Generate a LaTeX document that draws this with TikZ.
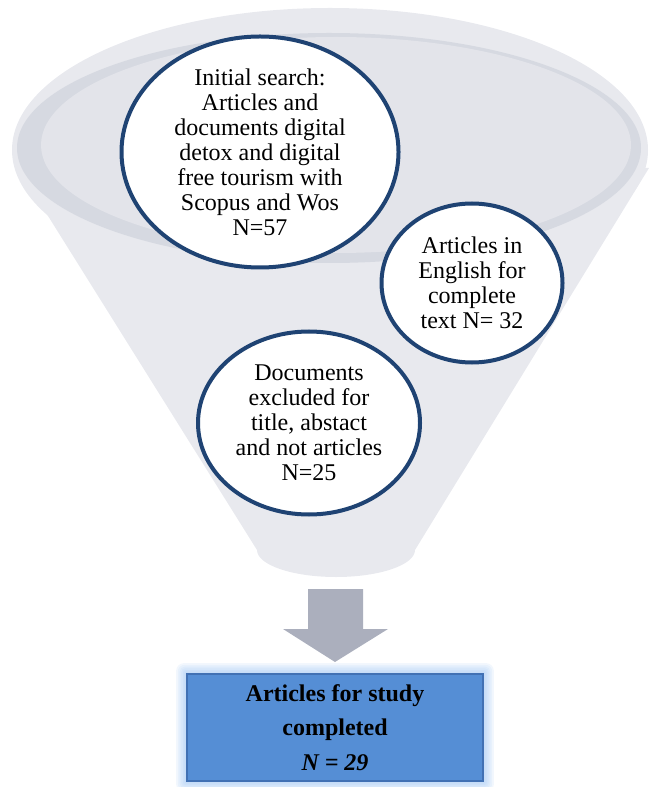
\documentclass[tikz,border=0pt]{standalone}
\usepackage{fontspec}
\setmainfont{Liberation Serif}
\usetikzlibrary{shapes.geometric,backgrounds}

\definecolor{funnelgray}{RGB}{232,233,238}
\definecolor{ringgray}{RGB}{214,217,225}
\definecolor{innergray}{RGB}{227,228,234}
\definecolor{circleblue}{RGB}{31,67,115}
\definecolor{arrowgray}{RGB}{171,175,189}
\definecolor{boxblue}{RGB}{85,142,213}
\definecolor{boxline}{RGB}{65,113,180}
\definecolor{glowblue}{RGB}{150,192,242}

\tikzset{
  stagecircle/.style={ellipse, draw=circleblue, line width=3pt, fill=white,
    inner sep=-20pt, align=center, font=\fontsize{18}{18.8}\selectfont},
  resultbox/.style={rectangle, draw=boxline, line width=0.8pt, fill=boxblue,
    minimum width=222pt, minimum height=80.25pt, inner sep=0pt, align=center,
    font=\bfseries\fontsize{18}{26}\selectfont}
}

\begin{document}
\begin{tikzpicture}[x=0.75pt, y=-0.75pt]
    \useasboundingbox (0,0) rectangle (653,787);

    % Draw the funnel body
    \fill[funnelgray] (330,150) ellipse [x radius=318, y radius=142];
    \fill[funnelgray] (13,160) -- (257,550)
        arc [start angle=180, end angle=0, x radius=79, y radius=27]
        -- (649,168) -- cycle;

    % Draw the rim of the funnel
    \fill[ringgray] (329,148) ellipse [x radius=312, y radius=115];
    \fill[innergray] (336,145) ellipse [x radius=295, y radius=108];

    % Draw the stages inside the funnel
    \node[stagecircle, minimum width=207.75pt, minimum height=173.25pt] (search) at (260,152)
        {Initial search:\\Articles and\\documents digital\\detox and digital\\free tourism with\\Scopus and Wos\\N=57};
    \node[stagecircle, minimum width=135.75pt, minimum height=119.25pt] (english) at (472,283)
        {Articles in\\English for\\complete\\text N= 32};
    \node[stagecircle, minimum width=166.5pt, minimum height=137.25pt] (excluded) at (309,423)
        {Documents\\excluded for\\title, abstact\\and not articles\\N=25};

    % Draw the down arrow
    \fill[arrowgray] (308,589) -- (363,589) -- (363,629) -- (388,629)
        -- (335,662) -- (283,629) -- (308,629) -- cycle;

    % Draw the result box
    \node[resultbox] (result) at (335,727.5)
        {Articles for study\\completed\\\textit{N = 29}};
    \begin{scope}[on background layer]
        \foreach \g in {1,...,6}
            \fill[glowblue, opacity=0.12, rounded corners=\g pt]
                ([xshift=-1.3*\g pt, yshift=-1.3*\g pt]result.south west)
                rectangle ([xshift=1.3*\g pt, yshift=1.3*\g pt]result.north east);
    \end{scope}
\end{tikzpicture}
\end{document}
